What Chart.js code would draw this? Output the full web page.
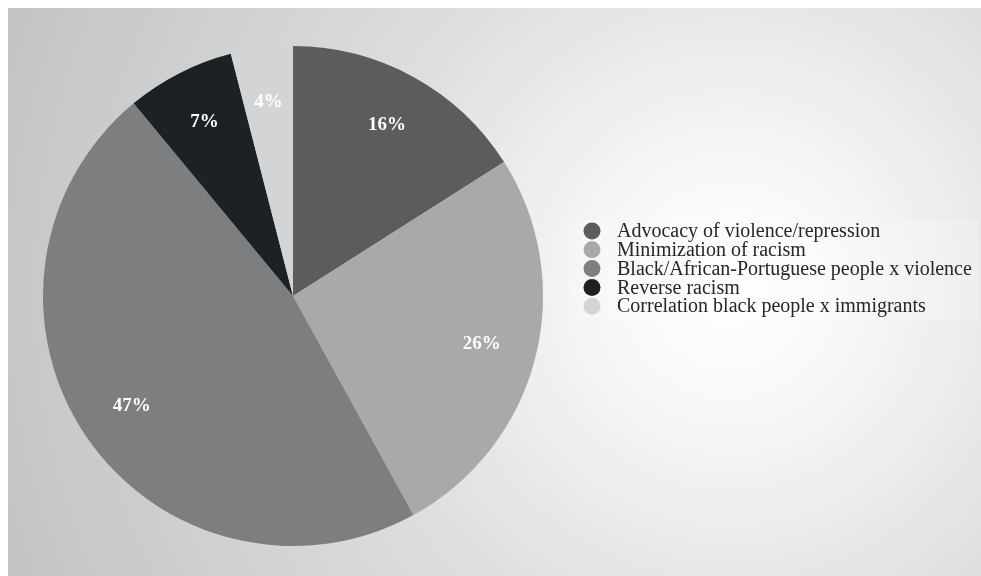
<!DOCTYPE html>
<html>
<head>
<meta charset="utf-8">
<title>Racism discourse pie</title>
<script src="https://cdn.jsdelivr.net/npm/chart.js@4.4.1/dist/chart.umd.min.js"></script>
<style>
  html, body { margin: 0; padding: 0; background: #fff; }
  #wrap { position: relative; width: 981px; height: 576px; }
</style>
</head>
<body>
<div id="wrap"><canvas id="pie-chart" width="981" height="576"></canvas></div>
<script>
const categories = [
  'Advocacy of violence/repression',
  'Minimization of racism',
  'Black/African-Portuguese people x violence',
  'Reverse racism',
  'Correlation black people x immigrants'
];
const shares = [16, 26, 47, 7, 4];
const sliceColors = ['#5a5c5e', '#a8a9aa', '#7c7e7f', '#1e2124', '#d3d4d5'];

// gray backdrop with the bright spot behind the legend
const backdrop = {
  id: 'backdrop',
  beforeDraw(chart) {
    const c = chart.ctx;
    c.save();
    c.fillStyle = '#fff';
    c.fillRect(0, 0, chart.width, chart.height);
    const g = c.createRadialGradient(730, 290, 0, 730, 290, 760);
    g.addColorStop(0, '#ffffff');
    g.addColorStop(0.15, '#f8f8f8');
    g.addColorStop(0.5, '#dddede');
    g.addColorStop(1, '#c2c4c5');
    c.fillStyle = g;
    c.fillRect(8, 8, chart.width - 8, chart.height - 8);
    c.restore();
  }
};

// percent labels inside slices
const sliceLabels = {
  id: 'sliceLabels',
  afterDatasetsDraw(chart) {
    const c = chart.ctx;
    const meta = chart.getDatasetMeta(0);
    c.save();
    c.font = 'bold 19px "Liberation Serif", "DejaVu Serif", serif';
    c.fillStyle = '#ffffff';
    c.textAlign = 'center';
    c.textBaseline = 'middle';
    meta.data.forEach((arc, i) => {
      const p = arc.getProps(['x', 'y', 'startAngle', 'endAngle', 'outerRadius'], true);
      const mid = (p.startAngle + p.endAngle) / 2;
      const r = p.outerRadius * 0.78;
      c.fillText(shares[i] + '%', p.x + Math.cos(mid) * r, p.y + Math.sin(mid) * r);
    });
    c.restore();
  }
};

// legend box at the right
const sideLegend = {
  id: 'sideLegend',
  afterDraw(chart) {
    const c = chart.ctx;
    c.save();
    c.fillStyle = 'rgba(255,255,255,0.2)';
    c.fillRect(568, 220, 410, 100);
    c.font = '20px "Liberation Serif", "DejaVu Serif", serif';
    c.textBaseline = 'middle';
    c.textAlign = 'left';
    chart.data.labels.forEach((lab, i) => {
      const y = 231 + i * 18.8;
      c.fillStyle = sliceColors[i];
      c.beginPath();
      c.arc(592, y, 8.5, 0, Math.PI * 2);
      c.fill();
      c.fillStyle = '#262626';
      c.fillText(lab, 617, y + 1);
    });
    c.restore();
  }
};

new Chart(document.getElementById('pie-chart').getContext('2d'), {
  type: 'pie',
  data: {
    labels: categories,
    datasets: [{
      data: shares,
      backgroundColor: sliceColors,
      borderWidth: 0
    }]
  },
  options: {
    responsive: false,
    animation: false,
    layout: { padding: { left: 43, top: 46, right: 438, bottom: 30 } },
    plugins: {
      legend: { display: false },
      tooltip: { enabled: false }
    }
  },
  plugins: [backdrop, sliceLabels, sideLegend]
});
</script>
</body>
</html>
